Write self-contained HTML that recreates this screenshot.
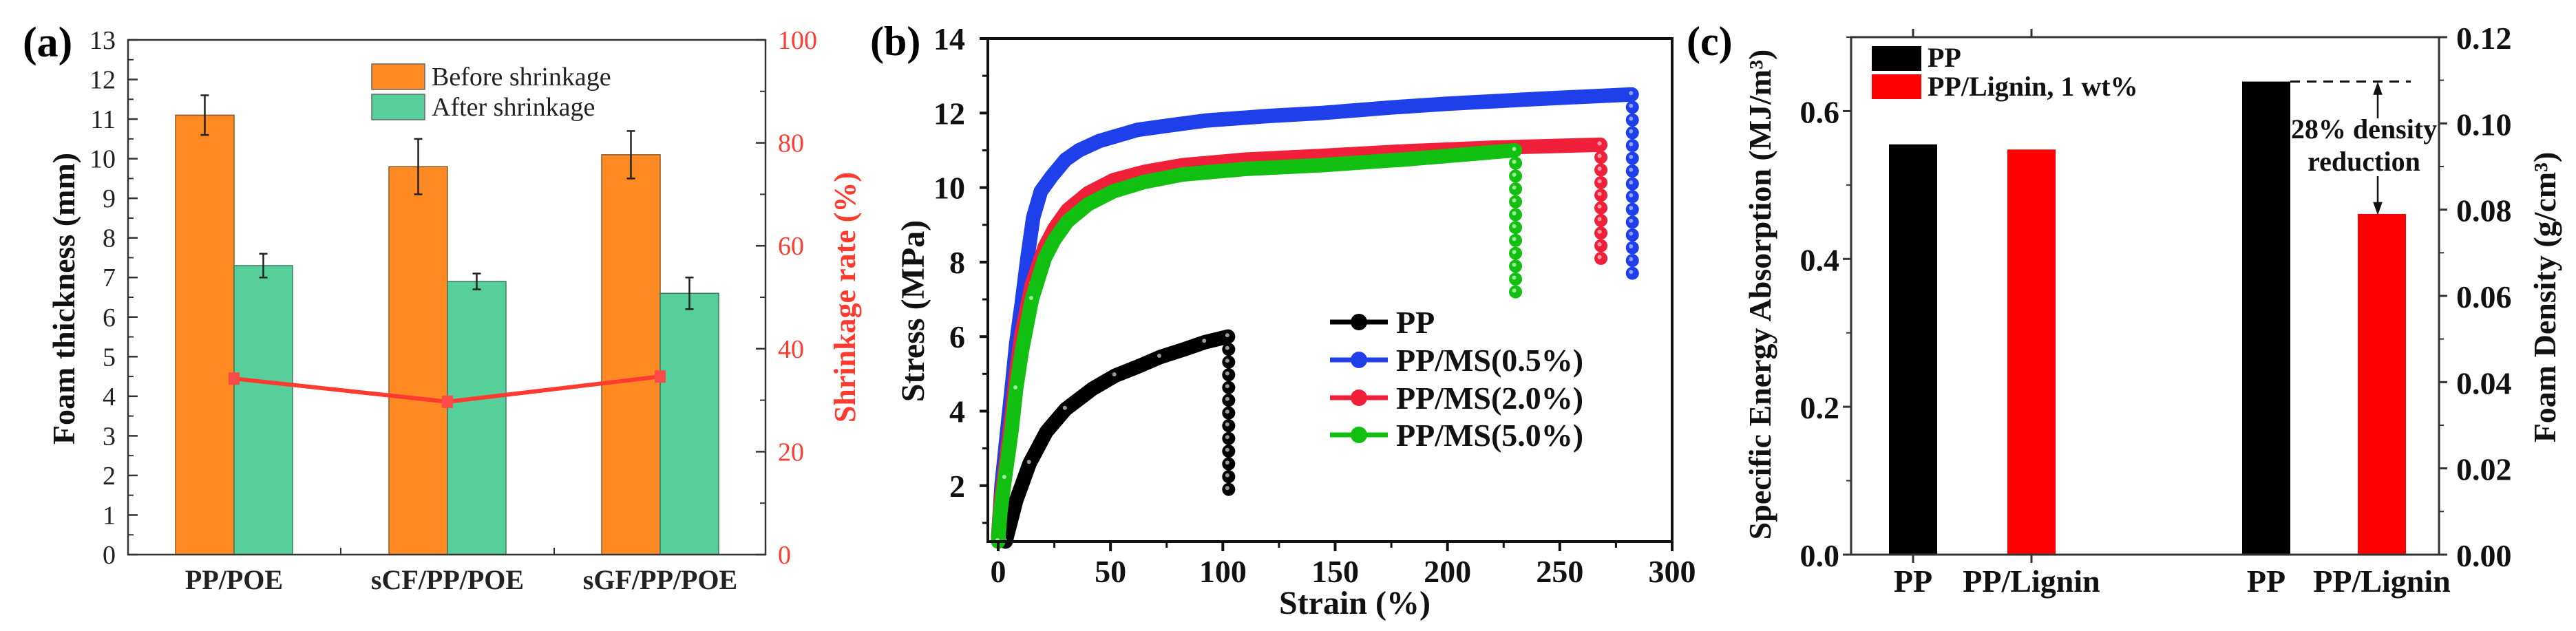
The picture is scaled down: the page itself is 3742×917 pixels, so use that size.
<!DOCTYPE html>
<html><head><meta charset="utf-8"><style>
html,body{margin:0;padding:0;background:#fff;}
svg{display:block;font-family:"Liberation Serif","DejaVu Serif",serif;}
</style></head><body>
<svg id="fig" width="3742" height="917" viewBox="0 0 3742 917" xmlns="http://www.w3.org/2000/svg">
<g id="pa"></g>
<g id="pb"></g>
<g id="pc"></g>
</svg>
<script>
// ---------- Panel (a) data ----------
const aCategories = ["PP/POE", "sCF/PP/POE", "sGF/PP/POE"];
const aBefore = [11.1, 9.8, 10.1];
const aBeforeErr = [0.5, 0.7, 0.6];
const aAfter = [7.3, 6.9, 6.6];
const aAfterErr = [0.3, 0.2, 0.4];
const aShrink = [34.2, 29.7, 34.6];
const aLeftTicks = [0,1,2,3,4,5,6,7,8,9,10,11,12,13];
const aRightTicks = [0,20,40,60,80,100];
// ---------- Panel (b) data ----------
const bStrainTicks = [0,50,100,150,200,250,300];
const bStressTicks = [2,4,6,8,10,12,14];
const bSeriesNames = ["PP","PP/MS(0.5%)","PP/MS(2.0%)","PP/MS(5.0%)"];
const bPPx = [3.3, 8, 14, 21.5, 30, 42, 52, 62.4, 72, 82.8, 92, 102.3];
const bPPy = [0.5, 1.6, 2.6, 3.45, 4.05, 4.6, 4.95, 5.2, 5.45, 5.66, 5.85, 6.0];
const bPPdrop = [6.0, 1.9];
const bBlueX = [0, 1.5, 3.3, 6, 8, 10.5, 13, 15.6, 19, 23.8, 30, 36, 45, 62, 80, 92.6, 120, 143.7, 175, 200, 240, 282];
const bBlueY = [0.6, 2.0, 3.06, 4.6, 5.8, 6.9, 8.1, 9.2, 9.9, 10.3, 10.75, 11.0, 11.25, 11.55, 11.7, 11.8, 11.92, 12.0, 12.15, 12.25, 12.38, 12.5];
const bBlueDrop = [12.5, 7.7];
const bRedX = [0, 1, 3, 6, 8, 10.5, 15, 20.7, 25, 30.9, 40, 51.3, 65, 82, 110, 143.7, 180, 220, 268];
const bRedY = [0.6, 1.5, 2.4, 3.9, 5.0, 6.1, 7.4, 8.4, 8.9, 9.4, 9.85, 10.2, 10.42, 10.6, 10.75, 10.85, 10.97, 11.07, 11.15];
const bRedDrop = [11.15, 8.1];
const bGreenX = [0, 1, 3, 6, 8, 10.5, 15, 20.7, 25, 30.9, 40, 51.3, 65, 82, 110, 143.7, 180, 230];
const bGreenY = [0.5, 1.3, 2.2, 3.5, 4.6, 5.6, 7.0, 8.1, 8.6, 9.1, 9.55, 9.9, 10.15, 10.35, 10.5, 10.6, 10.75, 11.0];
const bGreenDrop = [11.0, 7.2];
// ---------- Panel (c) data ----------
const cCategories = ["PP","PP/Lignin","PP","PP/Lignin"];
const cEnergy = [0.555, 0.548];
const cDensity = [0.1097, 0.079];
const cLeftTicks = [0.0, 0.2, 0.4, 0.6];
const cRightTicks = [0.00, 0.02, 0.04, 0.06, 0.08, 0.10, 0.12];

const NS = "http://www.w3.org/2000/svg";
function mk(parent, tag, attrs, text){
  const e = document.createElementNS(NS, tag);
  for (const k in attrs) e.setAttribute(k, attrs[k]);
  if (text !== undefined) e.textContent = text;
  parent.appendChild(e);
  return e;
}
let el;
// ================= PANEL A =================
const pa = document.getElementById('pa');
const aL = 186, aR = 1112, aT = 58, aB = 806;
const ayL = v => aB - v * (aB - aT) / 13;
const ayR = v => aB - v * (aB - aT) / 100;
const aCx = [340, 650, 959];
const aBW = 85;
el = mk(pa, 'text', {x:33, y:82, 'font-size':62, 'font-weight':'bold'}, '(a)');


aCategories.forEach((c, i) => {
  const x = aCx[i];
  el = mk(pa, 'rect', {x:x-aBW, y:ayL(aBefore[i]), width:aBW, height:aB-ayL(aBefore[i]), fill:'#FF8A24', stroke:'#8a5a2a', 'stroke-width':1.5});
  
  
  el = mk(pa, 'rect', {x:x, y:ayL(aAfter[i]), width:aBW, height:aB-ayL(aAfter[i]), fill:'#57CF9B', stroke:'#3f7a60', 'stroke-width':1.5});
  
  
  [[x-aBW/2, aBefore[i], aBeforeErr[i]], [x+aBW/2, aAfter[i], aAfterErr[i]]].forEach(([ex, v, e]) => {
    el = mk(pa, 'path', {d:`M${ex},${ayL(v+e)}V${ayL(v-e)}M${ex-6},${ayL(v+e)}h12M${ex-6},${ayL(v-e)}h12`, stroke:'#222', 'stroke-width':2.5, fill:'none'});
    
    
  });
});
el = mk(pa, 'polyline', {points: aShrink.map((v,i)=>`${aCx[i]},${ayR(v)}`).join(' '), stroke:'#FF3B2F', 'stroke-width':6, fill:'none'});


aShrink.forEach((v,i)=>{
  el = mk(pa, 'rect', {x:aCx[i]-8, y:ayR(v)-9, width:16, height:18, fill:'#FF4A4A'});
  
  
});
el = mk(pa, 'rect', {x:aL, y:aT, width:aR-aL, height:aB-aT, fill:'none', stroke:'#333', 'stroke-width':2.5});


aLeftTicks.forEach(v => {
  el = mk(pa, 'line', {x1:aL, x2:aL+14, y1:ayL(v), y2:ayL(v), stroke:'#333', 'stroke-width':2.5});
  
  
  if (v < 13) { el = mk(pa, 'line', {x1:aL, x2:aL+8, y1:ayL(v+0.5), y2:ayL(v+0.5), stroke:'#333', 'stroke-width':2});
  
   }
  el = mk(pa, 'text', {x:168, y:ayL(v)+13, 'font-size':38, 'text-anchor':'end', fill:'#222'}, String(v));
  
  
});
aRightTicks.forEach(v => {
  el = mk(pa, 'line', {x1:aR-14, x2:aR, y1:ayR(v), y2:ayR(v), stroke:'#333', 'stroke-width':2.5});
  
  
  if (v < 100) { el = mk(pa, 'line', {x1:aR-8, x2:aR, y1:ayR(v+10), y2:ayR(v+10), stroke:'#333', 'stroke-width':2});
  
   }
  el = mk(pa, 'text', {x:1130, y:ayR(v)+13, 'font-size':38, fill:'#FF3B2F'}, String(v));
  
  
});
[495, 805].forEach(x=>{
  el = mk(pa, 'line', {x1:x, x2:x, y1:aB, y2:aB-10, stroke:'#333', 'stroke-width':2});
  
  
});
aCategories.forEach((c,i)=>{
  el = mk(pa, 'text', {x:aCx[i], y:856, 'font-size':40, 'font-weight':'bold', 'text-anchor':'middle', fill:'#222'}, c);
  
  
});
el = mk(pa, 'text', {x:0, y:0, transform:'translate(108,434) rotate(-90)', 'font-size':46, 'font-weight':'bold', 'text-anchor':'middle', fill:'#111'}, 'Foam thickness (mm)');


el = mk(pa, 'text', {x:0, y:0, transform:'translate(1242,432) rotate(-90)', 'font-size':44, 'font-weight':'bold', 'text-anchor':'middle', fill:'#FF3B2F'}, 'Shrinkage rate (%)');


el = mk(pa, 'rect', {x:540, y:93, width:77, height:37, fill:'#FF8A24', stroke:'#666', 'stroke-width':1.5});


el = mk(pa, 'rect', {x:540, y:137, width:77, height:37, fill:'#57CF9B', stroke:'#666', 'stroke-width':1.5});


el = mk(pa, 'text', {x:627, y:124, 'font-size':38, fill:'#222'}, 'Before shrinkage');


el = mk(pa, 'text', {x:627, y:168, 'font-size':38, fill:'#222'}, 'After shrinkage');



// ================= PANEL B =================
const pb = document.getElementById('pb');
const bL = 1435, bR = 2429, bT = 56, bB = 787;
const bx = v => 1450 + v * (2429 - 1450) / 300;
const by = v => bB - (v - 0.5) * (bB - bT) / 13.5;
el = mk(pb, 'text', {x:1264, y:80, 'font-size':60, 'font-weight':'bold'}, '(b)');


const bSeries = [
  [bPPx, bPPy, bPPdrop, '#000', '#9a9a9a'],
  [bBlueX, bBlueY, bBlueDrop, '#1F3FEA', '#8fa0ff'],
  [bRedX, bRedY, bRedDrop, '#F0203A', '#ff9aa8'],
  [bGreenX, bGreenY, bGreenDrop, '#11C011', '#9aee9a']
];
[0,1,2,3].forEach(si => {
  const [xs, ys, drop, col, hi] = bSeries[si];
  const pts = xs.map((x,i)=>`${bx(x)},${by(ys[i])}`).join(' ');
  el = mk(pb, 'polyline', {points:pts, stroke:col, 'stroke-width':21, fill:'none', 'stroke-linejoin':'round', 'stroke-linecap':'round'});
  
  
  const xe = xs[xs.length-1];
  const n = Math.round((drop[0]-drop[1])/0.34);
  for (let k=0;k<=n;k++){
    const v = drop[0] - (drop[0]-drop[1])*k/n;
    el = mk(pb, 'circle', {cx:bx(xe)+(k>0?1:0), cy:by(v), r:9.5, fill:col});
    
    
    el = mk(pb, 'circle', {cx:bx(xe)-1, cy:by(v)-2, r:3, fill:hi});
    
    
  }
  xs.forEach((x,i)=>{ if (i%2===0 && ys[i] < 8){
    el = mk(pb, 'circle', {cx:bx(x)-1, cy:by(ys[i])-2, r:3, fill:hi});
    
    
  }});
});
el = mk(pb, 'rect', {x:bL, y:bT, width:bR-bL, height:bB-bT, fill:'none', stroke:'#111', 'stroke-width':4});


bStressTicks.forEach(v=>{
  el = mk(pb, 'line', {x1:bL-12, x2:bL, y1:by(v), y2:by(v), stroke:'#111', 'stroke-width':4});
  
  
  el = mk(pb, 'line', {x1:bL-8, x2:bL, y1:by(v-1), y2:by(v-1), stroke:'#111', 'stroke-width':3});
  
  
  el = mk(pb, 'text', {x:1402, y:by(v)+16, 'font-size':46, 'font-weight':'bold', 'text-anchor':'end', fill:'#111'}, String(v));
  
  
});
bStrainTicks.forEach(v=>{
  el = mk(pb, 'line', {x1:bx(v), x2:bx(v), y1:bB, y2:bB+14, stroke:'#111', 'stroke-width':4});
  
  
  if (v<300){ el = mk(pb, 'line', {x1:bx(v+25), x2:bx(v+25), y1:bB, y2:bB+9, stroke:'#111', 'stroke-width':3});
  
   }
  el = mk(pb, 'text', {x:bx(v), y:846, 'font-size':46, 'font-weight':'bold', 'text-anchor':'middle', fill:'#111'}, String(v));
  
  
});
el = mk(pb, 'text', {x:1968, y:892, 'font-size':48, 'font-weight':'bold', 'text-anchor':'middle', fill:'#111'}, 'Strain (%)');


el = mk(pb, 'text', {x:0, y:0, transform:'translate(1342,452) rotate(-90)', 'font-size':48, 'font-weight':'bold', 'text-anchor':'middle', fill:'#111'}, 'Stress (MPa)');


const bLegY = [468, 523, 578, 632];
bSeriesNames.forEach((nm,i)=>{
  const col = bSeries[i][3];
  el = mk(pb, 'line', {x1:1932, x2:2016, y1:bLegY[i], y2:bLegY[i], stroke:col, 'stroke-width':7});
  
  
  el = mk(pb, 'circle', {cx:1974, cy:bLegY[i], r:12, fill:col});
  
  
  el = mk(pb, 'text', {x:2028, y:bLegY[i]+16, 'font-size':46, 'font-weight':'bold', fill:'#111'}, nm);
  
  
});

// ================= PANEL C =================
const pc = document.getElementById('pc');
const cL = 2689, cR = 3543, cT = 54, cB = 806;
const cyL = v => cB - v * (cB - cT) / 0.7;
const cyR = v => cB - v * (cB - cT) / 0.12;
const cCx = [2779, 2951, 3292, 3460];
const cBW = 70;
el = mk(pc, 'text', {x:2450, y:80, 'font-size':60, 'font-weight':'bold'}, '(c)');


const cColors = ['#000', '#FF0000'];
cEnergy.forEach((v,i)=>{
  el = mk(pc, 'rect', {x:cCx[i]-35, y:cyL(v), width:cBW, height:cB-cyL(v), fill:cColors[i]});
  
  
});
cDensity.forEach((v,i)=>{
  el = mk(pc, 'rect', {x:cCx[i+2]-35, y:cyR(v), width:cBW, height:cB-cyR(v), fill:cColors[i]});
  
  
});
el = mk(pc, 'line', {x1:cCx[2]+35, x2:3502, y1:cyR(cDensity[0]), y2:cyR(cDensity[0]), stroke:'#111', 'stroke-width':3, 'stroke-dasharray':'14,10'});


el = mk(pc, 'path', {d:`M3454,${cyR(cDensity[0])+4}V172M3454,${cyR(cDensity[0])+4}l-5,14h10z`, stroke:'#111', 'stroke-width':2.5, fill:'#111'});


el = mk(pc, 'path', {d:`M3454,256V${cyR(cDensity[1])-2}M3454,${cyR(cDensity[1])-2}l-5,-14h10z`, stroke:'#111', 'stroke-width':2.5, fill:'#111'});


el = mk(pc, 'text', {x:3434, y:201, 'font-size':40, 'font-weight':'bold', 'text-anchor':'middle', fill:'#111'}, '28% density');


el = mk(pc, 'text', {x:3434, y:248, 'font-size':40, 'font-weight':'bold', 'text-anchor':'middle', fill:'#111'}, 'reduction');


el = mk(pc, 'rect', {x:cL, y:cT, width:cR-cL, height:cB-cT, fill:'none', stroke:'#333', 'stroke-width':3});


cLeftTicks.forEach(v=>{
  el = mk(pc, 'line', {x1:cL-12, x2:cL, y1:cyL(v), y2:cyL(v), stroke:'#333', 'stroke-width':3});
  
  
  el = mk(pc, 'line', {x1:cL-7, x2:cL, y1:cyL(v+0.1), y2:cyL(v+0.1), stroke:'#333', 'stroke-width':2});
  
  
  el = mk(pc, 'text', {x:2672, y:cyL(v)+17, 'font-size':46, 'font-weight':'bold', 'text-anchor':'end', fill:'#111'}, v.toFixed(1));
  
  
});
cRightTicks.forEach(v=>{
  el = mk(pc, 'line', {x1:cR, x2:cR+12, y1:cyR(v), y2:cyR(v), stroke:'#333', 'stroke-width':3});
  
  
  if (v<0.12){ el = mk(pc, 'line', {x1:cR, x2:cR+7, y1:cyR(v+0.01), y2:cyR(v+0.01), stroke:'#333', 'stroke-width':2});
  
   }
  el = mk(pc, 'text', {x:3568, y:cyR(v)+17, 'font-size':46, 'font-weight':'bold', fill:'#111'}, v.toFixed(2));
  
  
});
cCx.forEach((x,i)=>{
  if (i<2){
    el = mk(pc, 'line', {x1:x, x2:x, y1:cT, y2:cT-12, stroke:'#333', 'stroke-width':3});
    
    
    el = mk(pc, 'line', {x1:x, x2:x, y1:cB, y2:cB+12, stroke:'#333', 'stroke-width':3});
    
    
  }
  el = mk(pc, 'text', {x:x, y:860, 'font-size':46, 'font-weight':'bold', 'text-anchor':'middle', fill:'#111'}, cCategories[i]);
  
  
});
el = mk(pc, 'text', {x:0, y:0, transform:'translate(2572,428) rotate(-90)', 'font-size':46, 'font-weight':'bold', 'text-anchor':'middle', fill:'#111'}, 'Specific Energy Absorption (MJ/m³)');


el = mk(pc, 'text', {x:0, y:0, transform:'translate(3712,432) rotate(-90)', 'font-size':46, 'font-weight':'bold', 'text-anchor':'middle', fill:'#111'}, 'Foam Density (g/cm³)');


el = mk(pc, 'rect', {x:2719, y:67, width:72, height:36, fill:'#000'});


el = mk(pc, 'rect', {x:2719, y:108, width:72, height:36, fill:'#FF0000'});


el = mk(pc, 'text', {x:2800, y:97, 'font-size':40, 'font-weight':'bold', fill:'#111'}, 'PP');


el = mk(pc, 'text', {x:2800, y:139, 'font-size':40, 'font-weight':'bold', fill:'#111'}, 'PP/Lignin, 1 wt%');


</script>
</body></html>
